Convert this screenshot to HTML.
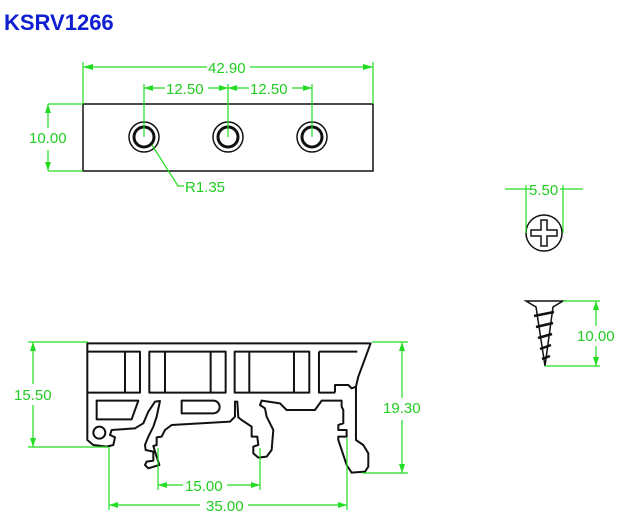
<!DOCTYPE html>
<html><head><style>
body{margin:0;background:#fff;width:628px;height:529px;overflow:hidden}
svg{position:absolute;left:0;top:0}
.g{stroke:#22dd22;stroke-width:1.2;fill:none}
.t{fill:#22cc22;font-family:"Liberation Sans",sans-serif;font-size:15px}
.k{stroke:#111;fill:none}
</style></head><body>
<svg width="628" height="529" viewBox="0 0 628 529">
<text x="4" y="30" font-family="Liberation Sans,sans-serif" font-weight="bold" font-size="22" fill="#1020d0">KSRV1266</text>
<!-- top view -->
<rect x="83" y="104" width="290" height="67" class="k" stroke-width="1.5"/>
<g class="k" stroke-width="2">
<circle cx="144" cy="137" r="15" stroke-width="1.5"/><circle cx="144" cy="137" r="10" stroke-width="3"/>
<circle cx="228" cy="137" r="15" stroke-width="1.5"/><circle cx="228" cy="137" r="10" stroke-width="3"/>
<circle cx="312" cy="137" r="15" stroke-width="1.5"/><circle cx="312" cy="137" r="10" stroke-width="3"/>
</g>
<g class="g">
<path d="M83 104V62M373 104V62M83 67H207M250 67H373"/>
<path d="M144 137V84M228 137V84M312 137V84M144 88H165M208 88H249M292 88H312"/>
<path d="M48 104H83M48 171H83M48 104V128M48 150V171"/>
<path d="M152 145L178 186H184"/>
</g>
<g fill="#22dd22"><path d="M83 67l10-3v6zM373 67l-10-3v6zM144 88l9-3v6zM228 88l-9-3v6zM228 88l9-3v6zM312 88l-9-3v6zM48 104l-3 9h6zM48 171l-3-9h6z"/></g>
<text class="t" x="208" y="73">42.90</text>
<text class="t" x="166" y="94">12.50</text>
<text class="t" x="250" y="94">12.50</text>
<text class="t" x="29" y="143">10.00</text>
<text class="t" x="185" y="192">R1.35</text>
<!-- screw head -->
<circle cx="544" cy="233" r="18" class="k" stroke-width="1.5"/>
<path class="k" stroke-width="1.5" d="M541 220h6v10h10v6h-10v10h-6v-10h-10v-6h10z"/>
<g class="g"><path d="M526 233V185M563 233V185M505 189H530M560 189H583"/></g>
<text class="t" x="529" y="195">5.50</text>
<!-- screw -->
<path class="k" stroke-width="1.5" d="M526 301H563L553 307L545 366L536 307Z"/>
<g class="k" stroke-width="2.5"><path d="M534 316l20-4M536 327l17-4M538 338l14-4M540 349l11-4M542 359l8-3"/></g>
<g class="g"><path d="M563 301H600M545 366H600M596 301V326M596 346V366"/></g>
<g fill="#22dd22"><path d="M596 301l-3 9h6zM596 366l-3-9h6z"/></g>
<text class="t" x="577" y="341">10.00</text>
<!-- bottom view -->
<g transform="translate(0,330) scale(0.3333)" class="k" stroke-width="6" stroke-linejoin="round">
<path d="M262,40 H1112 L1075,140 L1068,170 L1068,330 L1090,345 L1105,370 L1105,410 L1095,425 L1055,428 L1040,405 L1015,330 L1015,320 L1040,320 L1040,300 L1015,300 L1015,285 L1030,280 L1030,240 L1025,230 L1025,212 L965,212 L945,240 L860,240 L840,220 L785,212 L780,225 L795,235 L800,260 L820,300 L815,360 L800,380 L775,383 L760,370 L760,350 L775,345 L772,320 L755,320 L755,290 L725,270 L715,262 L712,215 L705,215 L705,260 L690,275 L515,285 L495,300 L485,320 L470,322 L470,345 L460,348 L470,380 L478,405 L445,415 L435,405 L440,395 L460,392 L460,365 L437,360 L435,345 L445,320 L460,290 L470,260 L480,213 L465,215 L445,245 L430,280 L405,295 L335,300 L330,315 L345,322 L340,345 L320,350 L280,345 L262,330 Z"/>
<path d="M262,65H420V188H262M375,65V188M448,65H677V188H448ZM495,65V188M632,65V188M704,65H928V188H704ZM748,65V188M882,65V188M957,65H1072M957,65V188H1005"/>
<path d="M1005,188V165H1045L1055,175L1068,170"/>
<path d="M290,212H415L395,268H290Z"/>
<path d="M545,212H640A19,19 0 0 1 640,250H545Z"/>
<circle cx="298" cy="308" r="18"/>
</g>
<g class="g">
<path d="M88 342H28M108 447H28M33 342V384M33 405V447"/>
<path d="M372 342H408M362 473H408M402 342V398M402 420V473"/>
<path d="M158 448V490M260 448V490M158 485H183M227 485H260"/>
<path d="M109 447V510M347 438V510M109 505H200M248 505H347"/>
</g>
<g fill="#22dd22"><path d="M33 342l-3 9h6zM33 447l-3-9h6zM402 342l-3 9h6zM402 473l-3-9h6zM158 485l9-3v6zM260 485l-9-3v6zM109 505l9-3v6zM347 505l-9-3v6z"/></g>
<text class="t" x="14" y="400">15.50</text>
<text class="t" x="383" y="413">19.30</text>
<text class="t" x="185" y="491">15.00</text>
<text class="t" x="206" y="511">35.00</text>
</svg>
</body></html>
